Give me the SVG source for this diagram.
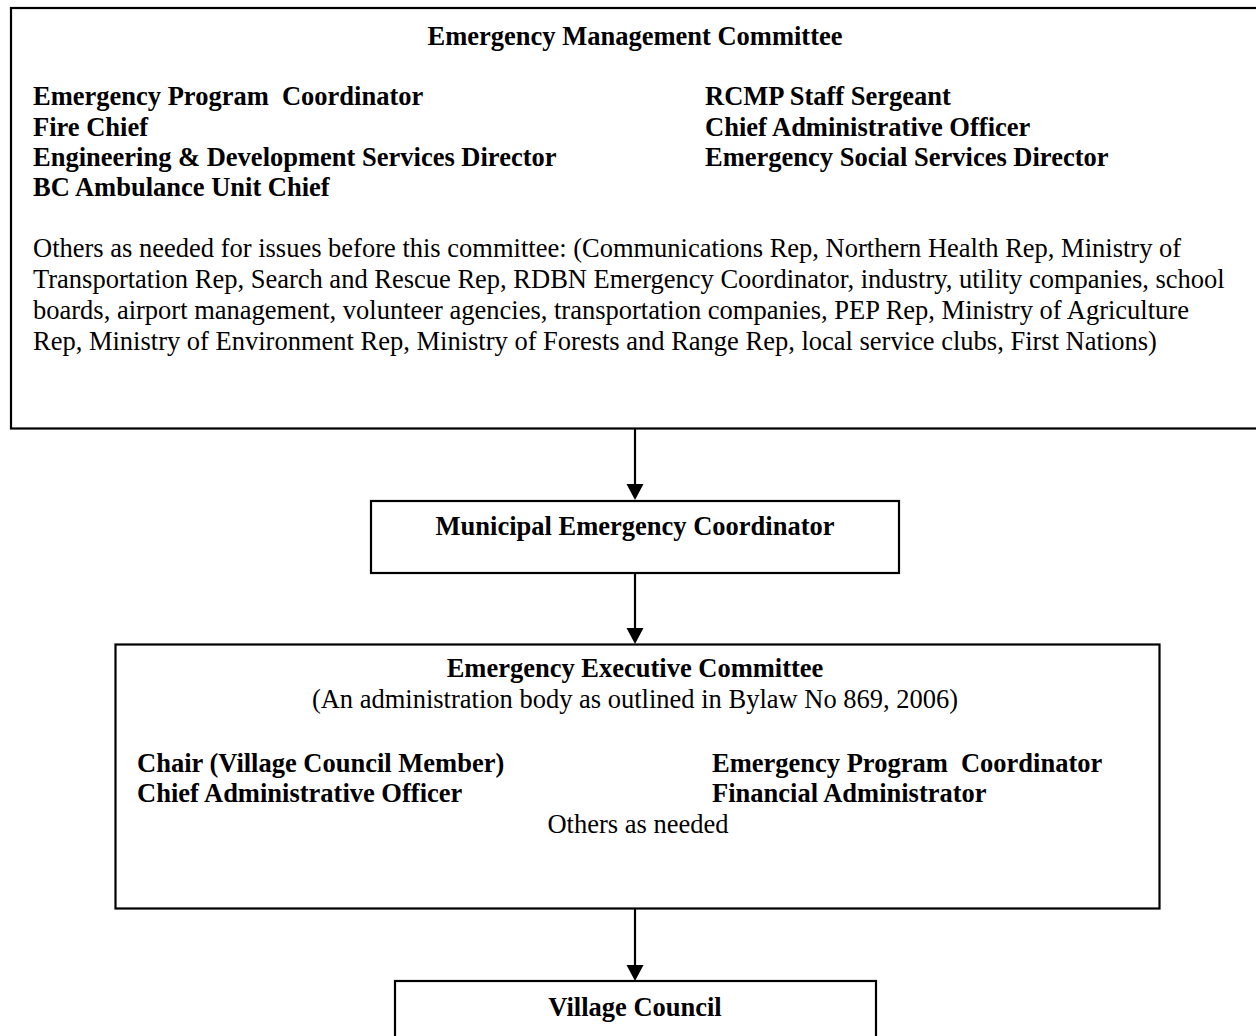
<svg xmlns="http://www.w3.org/2000/svg" width="1256" height="1036" viewBox="0 0 1256 1036">
<style>
.box{fill:#fff;stroke:#000;stroke-width:2.2}
.t{font-family:"Liberation Serif","Times New Roman",serif;font-size:26.5px;fill:#000}
.b{font-weight:bold}
.c{text-anchor:middle}
.ln{stroke:#000;stroke-width:2.2;fill:none}
</style>
<defs>
<marker id="ah" markerUnits="userSpaceOnUse" markerWidth="18" markerHeight="16" refX="8.5" refY="15" orient="auto-start-reverse" viewBox="0 0 17 16">
<path d="M0,0 L17,0 L8.5,15 Z" fill="#000" transform="rotate(0)"/>
</marker>
</defs>
<rect width="1256" height="1036" fill="#fff"/>
<g id="connectors">
<line class="ln" x1="635" y1="429" x2="635" y2="486"/>
<polygon points="626.5,484 643.5,484 635,500" fill="#000"/>
<line class="ln" x1="635" y1="573" x2="635" y2="630"/>
<polygon points="626.5,628 643.5,628 635,644" fill="#000"/>
<line class="ln" x1="635" y1="909" x2="635" y2="966"/>
<polygon points="626.5,965 643.5,965 635,981" fill="#000"/>
</g>
<g id="emc">
<rect class="box" x="11" y="8" width="1262" height="420.5"/>
<text class="t b c" x="635" y="45">Emergency Management Committee</text>
<text class="t b" x="33" y="105" xml:space="preserve">Emergency Program  Coordinator</text>
<text class="t b" x="33" y="135.5">Fire Chief</text>
<text class="t b" x="33" y="166">Engineering &amp; Development Services Director</text>
<text class="t b" x="33" y="196">BC Ambulance Unit Chief</text>
<text class="t b" x="705" y="105">RCMP Staff Sergeant</text>
<text class="t b" x="705" y="135.5">Chief Administrative Officer</text>
<text class="t b" x="705" y="166">Emergency Social Services Director</text>
<text class="t" x="33" y="257">Others as needed for issues before this committee: (Communications Rep, Northern Health Rep, Ministry of</text>
<text class="t" x="33" y="288">Transportation Rep, Search and Rescue Rep, RDBN Emergency Coordinator, industry, utility companies, school</text>
<text class="t" x="33" y="319">boards, airport management, volunteer agencies, transportation companies, PEP Rep, Ministry of Agriculture</text>
<text class="t" x="33" y="350">Rep, Ministry of Environment Rep, Ministry of Forests and Range Rep, local service clubs, First Nations)</text>
</g>
<g id="mec">
<rect class="box" x="371" y="501" width="528" height="72"/>
<text class="t b c" x="635" y="535">Municipal Emergency Coordinator</text>
</g>
<g id="eec">
<rect class="box" x="115.5" y="644.5" width="1044" height="264"/>
<text class="t b c" x="635" y="677">Emergency Executive Committee</text>
<text class="t c" x="635" y="708">(An administration body as outlined in Bylaw No 869, 2006)</text>
<text class="t b" x="137" y="771.5">Chair (Village Council Member)</text>
<text class="t b" x="137" y="802">Chief Administrative Officer</text>
<text class="t b" x="712" y="771.5" xml:space="preserve">Emergency Program  Coordinator</text>
<text class="t b" x="712" y="802">Financial Administrator</text>
<text class="t c" x="638" y="833">Others as needed</text>
</g>
<g id="vc">
<rect class="box" x="395" y="981" width="481" height="70"/>
<text class="t b c" x="635" y="1016">Village Council</text>
</g>
</svg>
